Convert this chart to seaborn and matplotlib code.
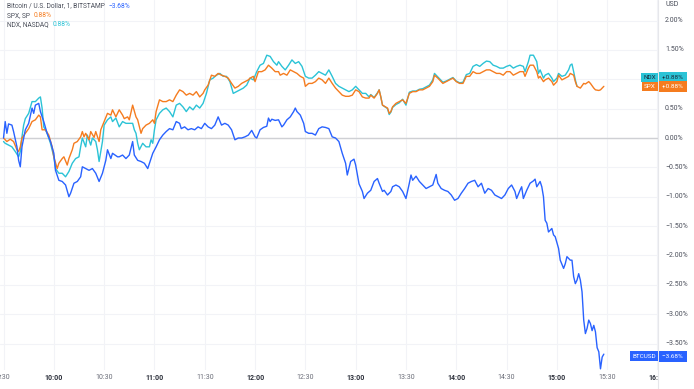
import numpy as np
import pandas as pd
import seaborn as sns
import matplotlib.pyplot as plt
from matplotlib.lines import Line2D
from matplotlib.transforms import blended_transform_factory, offset_copy

# minutes after 09:30 and % change from the open
btc_t = [0, 1, 2, 3, 5, 6, 8, 9, 10, 11, 13, 15, 17, 18, 19, 21, 22, 24, 26, 28,
         30, 31, 33, 35, 37, 39, 40, 42, 44, 46, 47, 49, 51, 53, 55, 57, 59, 61, 62, 64,
         65, 68, 69, 71, 73, 75, 77, 78, 80, 82, 84, 86, 88, 89, 91, 93, 95, 97, 99, 101,
         103, 105, 106, 108, 110, 112, 114, 116, 118, 120, 122, 124, 126, 128, 130, 132, 134, 136, 138, 140,
         142, 144, 146, 148, 150, 151, 153, 155, 157, 158, 159, 160, 162, 164, 166, 167, 169, 171, 173, 174,
         175, 177, 179, 180, 182, 184, 186, 188, 190, 192, 194, 196, 198, 200, 202, 204, 205, 207, 209, 210,
         212, 214, 215, 217, 219, 221, 223, 224, 226, 227, 229, 231, 232, 234, 236, 238, 240, 242, 243, 244,
         246, 248, 250, 252, 254, 256, 258, 259, 261, 263, 265, 267, 269, 271, 273, 275, 277, 279, 281, 283,
         285, 287, 289, 291, 293, 295, 297, 299, 301, 303, 305, 306, 308, 309, 310, 312, 314, 316, 317, 318,
         320, 321, 322, 323, 324, 325, 327, 328, 329, 331, 332, 334, 335, 336, 338, 339, 340, 341, 342, 343,
         344, 345, 346, 347, 348, 349, 350, 351, 352, 353, 354, 355, 356, 357, 358]
btc_pct = [0.00, 0.28, 0.08, 0.24, 0.22, 0.11, -0.15, -0.38, -0.49, -0.15, 0.14, 0.25, 0.51, 0.42, 0.56, 0.59, 0.45, 0.28, 0.08, -0.06,
           -0.26, -0.55, -0.72, -0.74, -0.80, -1.00, -0.94, -0.77, -0.74, -0.66, -0.49, -0.52, -0.55, -0.52, -0.60, -0.74, -0.60, -0.38, -0.20, -0.35,
           -0.26, -0.32, -0.32, -0.29, -0.35, -0.29, -0.06, -0.29, -0.38, -0.40, -0.43, -0.52, -0.35, -0.26, -0.15, -0.03, 0.05, 0.11, 0.16, 0.14,
           0.28, 0.25, 0.16, 0.19, 0.14, 0.16, 0.14, 0.19, 0.16, 0.25, 0.19, 0.16, 0.22, 0.36, 0.22, 0.25, 0.22, 0.14, -0.03, 0.00,
           0.00, 0.02, 0.05, 0.13, 0.02, 0.00, 0.14, 0.18, 0.20, 0.34, 0.28, 0.32, 0.30, 0.31, 0.19, 0.22, 0.31, 0.36, 0.45, 0.51,
           0.45, 0.39, 0.25, 0.11, 0.08, 0.08, 0.05, 0.16, 0.19, 0.18, 0.16, 0.02, 0.00, -0.06, -0.26, -0.43, -0.63, -0.40, -0.36, -0.46,
           -0.78, -0.91, -1.03, -0.94, -0.89, -0.74, -0.69, -0.77, -0.91, -0.89, -0.97, -0.91, -0.83, -0.80, -0.83, -0.91, -1.03, -0.77, -0.63, -0.72,
           -0.65, -0.74, -0.80, -0.86, -0.83, -0.80, -0.62, -0.77, -0.86, -0.89, -0.91, -0.97, -1.06, -1.03, -0.94, -0.86, -0.77, -0.74, -0.72, -0.83,
           -0.77, -0.94, -0.86, -0.89, -0.97, -1.00, -1.03, -0.97, -0.86, -0.80, -0.91, -1.03, -0.89, -0.83, -1.03, -0.89, -0.77, -0.73, -0.70, -0.83,
           -0.74, -0.83, -1.00, -1.40, -1.45, -1.60, -1.54, -1.65, -1.68, -1.88, -2.08, -2.22, -2.14, -2.02, -2.08, -2.08, -2.36, -2.48, -2.42, -2.31,
           -2.42, -2.62, -3.10, -3.33, -3.24, -3.10, -3.16, -3.28, -3.19, -3.30, -3.57, -3.64, -3.93, -3.73, -3.68]

spx_t = [0, 1, 2, 4, 6, 8, 9, 10, 11, 13, 15, 17, 19, 21, 22, 23, 25, 27, 29, 30,
         32, 33, 35, 36, 38, 39, 41, 42, 44, 46, 47, 48, 49, 51, 52, 54, 55, 57, 58, 60,
         62, 64, 65, 67, 69, 71, 72, 74, 75, 77, 79, 80, 82, 83, 85, 87, 89, 90, 91, 93,
         95, 97, 99, 101, 103, 105, 107, 109, 111, 113, 115, 117, 119, 120, 122, 124, 126, 128, 130, 132,
         134, 136, 138, 140, 142, 144, 146, 147, 149, 150, 152, 154, 156, 158, 160, 162, 164, 165, 167, 169,
         171, 173, 175, 177, 179, 180, 182, 184, 186, 188, 190, 192, 194, 196, 198, 200, 202, 204, 206, 208,
         210, 212, 214, 216, 218, 219, 221, 223, 224, 225, 226, 229, 230, 231, 232, 234, 236, 238, 240, 242,
         244, 246, 248, 250, 252, 254, 256, 257, 259, 260, 262, 264, 266, 268, 270, 272, 274, 276, 278, 280,
         282, 284, 286, 288, 290, 292, 294, 296, 298, 300, 302, 304, 306, 308, 310, 311, 313, 314, 316, 318,
         319, 320, 322, 323, 325, 327, 328, 330, 331, 333, 335, 337, 338, 340, 341, 342, 344, 346, 347, 349,
         350, 352, 353, 355, 356, 357, 358]
spx_pct = [0.00, -0.03, -0.06, -0.02, -0.06, -0.20, -0.23, -0.15, 0.00, 0.08, 0.16, 0.28, 0.31, 0.39, 0.36, 0.14, 0.14, 0.05, -0.15, -0.32,
           -0.52, -0.43, -0.35, -0.32, -0.46, -0.35, -0.20, -0.09, -0.06, 0.02, 0.11, 0.02, 0.08, -0.03, 0.11, 0.01, 0.11, -0.06, 0.14, 0.28,
           0.42, 0.39, 0.48, 0.36, 0.48, 0.39, 0.33, 0.36, 0.31, 0.56, 0.36, 0.31, 0.08, 0.16, 0.22, 0.25, 0.31, 0.25, 0.45, 0.65,
           0.62, 0.62, 0.65, 0.62, 0.73, 0.82, 0.79, 0.73, 0.76, 0.73, 0.79, 0.70, 0.76, 0.82, 0.90, 1.07, 1.05, 1.10, 1.07, 1.05,
           1.02, 0.93, 0.85, 0.88, 0.93, 0.96, 0.99, 1.02, 1.05, 0.96, 1.13, 1.13, 1.16, 1.24, 1.19, 1.13, 1.13, 1.07, 1.10, 1.07,
           1.16, 1.13, 1.10, 1.05, 1.02, 0.88, 0.93, 0.93, 0.96, 1.02, 0.99, 0.93, 1.02, 0.93, 0.85, 0.79, 0.73, 0.71, 0.71, 0.73,
           0.82, 0.79, 0.70, 0.68, 0.68, 0.73, 0.68, 0.76, 0.82, 0.70, 0.56, 0.51, 0.42, 0.45, 0.53, 0.59, 0.62, 0.65, 0.59, 0.76,
           0.79, 0.79, 0.82, 0.82, 0.85, 0.88, 0.96, 1.07, 1.02, 0.99, 0.93, 0.96, 0.99, 1.02, 0.96, 0.93, 0.93, 1.05, 1.05, 1.13,
           1.10, 1.10, 1.13, 1.16, 1.16, 1.13, 1.10, 1.10, 1.07, 1.13, 1.13, 1.07, 1.10, 1.13, 1.13, 1.05, 1.19, 1.24, 1.24, 1.13,
           1.02, 1.05, 0.96, 0.99, 1.02, 0.96, 0.90, 0.96, 1.07, 0.99, 1.02, 1.05, 1.10, 1.07, 0.96, 0.88, 0.85, 0.93, 0.92, 0.96,
           0.93, 0.85, 0.82, 0.81, 0.82, 0.85, 0.88]

ndx_t = [0, 1, 3, 5, 7, 9, 10, 11, 12, 13, 15, 17, 19, 20, 21, 22, 23, 24, 26, 28,
         30, 31, 33, 35, 37, 39, 41, 43, 45, 46, 47, 49, 50, 52, 53, 55, 56, 57, 59, 60,
         62, 64, 65, 67, 69, 71, 73, 75, 77, 78, 79, 80, 81, 83, 85, 87, 88, 89, 90, 91,
         93, 95, 97, 99, 101, 103, 105, 107, 109, 111, 113, 115, 117, 119, 121, 123, 125, 127, 129, 131,
         133, 135, 137, 139, 141, 143, 145, 147, 149, 151, 153, 155, 157, 159, 161, 163, 164, 166, 168, 170,
         172, 174, 176, 178, 180, 182, 184, 186, 188, 190, 192, 194, 196, 198, 200, 202, 204, 206, 208, 210,
         212, 214, 216, 218, 219, 221, 223, 224, 225, 226, 229, 230, 231, 232, 234, 236, 238, 240, 242, 244,
         246, 248, 250, 252, 254, 256, 257, 259, 260, 262, 264, 266, 268, 270, 272, 274, 276, 278, 280, 282,
         284, 286, 288, 290, 292, 294, 296, 298, 300, 302, 304, 306, 308, 310, 311, 313, 314, 316, 318, 319,
         320, 322, 323, 325, 327, 328, 330, 331, 333, 335, 337, 338, 339, 340, 341, 342]
ndx_pct = [-0.06, -0.09, -0.12, -0.15, -0.23, -0.32, -0.23, 0.02, 0.22, 0.33, 0.42, 0.62, 0.62, 0.65, 0.68, 0.70, 0.51, 0.19, 0.08, -0.09,
           -0.32, -0.52, -0.60, -0.60, -0.66, -0.57, -0.43, -0.35, -0.32, -0.15, 0.00, -0.15, 0.05, -0.12, 0.00, -0.06, -0.20, -0.40, -0.06, 0.22,
           0.31, 0.36, 0.28, 0.34, 0.19, 0.28, 0.25, 0.25, 0.25, 0.14, 0.08, -0.09, -0.20, -0.09, -0.15, -0.15, -0.03, -0.09, 0.14, 0.31,
           0.42, 0.48, 0.51, 0.45, 0.36, 0.56, 0.59, 0.53, 0.45, 0.53, 0.48, 0.56, 0.51, 0.59, 0.76, 0.99, 1.02, 1.07, 1.10, 1.05,
           1.05, 0.96, 0.76, 0.79, 0.82, 0.85, 0.90, 1.02, 0.99, 1.13, 1.24, 1.27, 1.41, 1.39, 1.30, 1.24, 1.30, 1.22, 1.16, 1.24,
           1.33, 1.27, 1.30, 1.22, 1.05, 1.02, 1.02, 1.07, 1.13, 1.10, 1.07, 1.16, 1.05, 0.93, 0.88, 0.85, 0.82, 0.79, 0.82, 0.88,
           0.82, 0.76, 0.76, 0.70, 0.74, 0.69, 0.77, 0.82, 0.70, 0.56, 0.50, 0.40, 0.44, 0.52, 0.57, 0.60, 0.66, 0.56, 0.78, 0.80,
           0.80, 0.83, 0.84, 0.87, 0.90, 0.99, 1.10, 1.04, 1.01, 0.95, 0.97, 1.00, 1.03, 0.97, 0.94, 0.95, 1.08, 1.10, 1.22, 1.25,
           1.22, 1.27, 1.31, 1.30, 1.24, 1.22, 1.19, 1.19, 1.22, 1.24, 1.19, 1.22, 1.24, 1.22, 1.13, 1.30, 1.41, 1.41, 1.30, 1.10,
           1.16, 1.02, 1.07, 1.10, 1.02, 0.96, 1.02, 1.10, 1.05, 1.07, 1.16, 1.24, 1.26, 1.13, 0.99, 0.88]

pct_ticks = [2.0, 1.5, 1.0, 0.5, 0.0, -0.5, -1.0, -1.5, -2.0, -2.5, -3.0, -3.5]
# 1.00% sits under the NDX / SPX badges, so its label is hidden
pct_labels = [2.0, 1.5, 0.5, 0.0, -0.5, -1.0, -1.5, -2.0, -2.5, -3.0, -3.5]
time_labels = ["9:30", "10:00", "10:30", "11:00", "11:30", "12:00", "12:30",
               "13:00", "13:30", "14:00", "14:30", "15:00", "15:30", "16:00"]

BLUE = "#2962ff"
ORANGE = "#f57c1f"
CYAN = "#2bc3d6"
TXT = "#4a4e5a"

sns.set_style("white")
plt.rcParams['font.family'] = ['Roboto', 'DejaVu Sans']

W, H = 694, 389
fig = plt.figure(figsize=(W / 100, H / 100), dpi=100)
ax = fig.add_axes([0, 19 / H, 658 / W, 370 / H])

df = pd.concat([
    pd.DataFrame({"t": ndx_t, "pct": ndx_pct, "sym": "NDX"}),
    pd.DataFrame({"t": spx_t, "pct": spx_pct, "sym": "SPX"}),
    pd.DataFrame({"t": btc_t, "pct": btc_pct, "sym": "BTCUSD"}),
])
sns.lineplot(data=df, x="t", y="pct", hue="sym", estimator=None, sort=False,
             palette={"NDX": CYAN, "SPX": ORANGE, "BTCUSD": BLUE},
             linewidth=1.0, legend=False, ax=ax)

ax.set_xlim(-2.1, 390.3)
ax.set_ylim(-3.95, 2.35)
ax.set_xticks(np.arange(0, 391, 30))
ax.set_yticks(pct_ticks)
ax.set_xticklabels([])
ax.set_yticklabels([])
ax.tick_params(length=0)
ax.set_xlabel("")
ax.set_ylabel("")
ax.grid(True, color="#f2f3f7", lw=0.8)
for s in ax.spines.values():
    s.set_visible(False)
ax.axhline(0, color="#cfd0d4", lw=1.0, zorder=1)

# price scale
fig.add_artist(Line2D([658 / W, 658 / W], [0, 1], transform=fig.transFigure, color="#e6e7eb", lw=0.8))
ptrans = blended_transform_factory(fig.transFigure, ax.transData)
for v in pct_labels:
    lbl = f"{v:.2f}%".replace("-", "\u2212")
    fig.text(665 / W, v, lbl, transform=ptrans, ha="left", va="center", fontsize=5, color=TXT, zorder=3)
fig.text(665 / W, 1 - 5 / H, "USD", ha="left", va="center", fontsize=5, color=TXT)

# time scale
ax_t = fig.add_axes([0, 0, 658 / W, 19 / H])
ax_t.set_xlim(ax.get_xlim())
ax_t.set_ylim(0, 1)
ax_t.axis("off")
for i, lbl in enumerate(time_labels):
    hour = lbl.endswith(":00")
    ax_t.text(i * 30, 0.58, lbl, ha="center", va="center", fontsize=5,
              fontweight="bold" if hour else "normal",
              color="#2a2e39" if hour else "#6a6d78", clip_on=True, clip_box=ax_t.bbox)

# legend at top left
renderer = fig.canvas.get_renderer()
legend_rows = [("Bitcoin / U.S. Dollar, 1, BITSTAMP", "\u22123.68%", BLUE),
               ("SPX, SP", "0.88%", ORANGE),
               ("NDX, NASDAQ", "0.88%", CYAN)]
for k, (name, val, col) in enumerate(legend_rows):
    y = 1 - (6 + 9.5 * k) / H
    t = fig.text(7 / W, y, name, ha="left", va="center", fontsize=4.8, color=TXT)
    bb = t.get_window_extent(renderer)
    fig.text((bb.x1 + 4) / W, y, val, ha="left", va="center", fontsize=4.8, color=col)


# last value badges on the price scale
def badge(name, val, y_val, col, txt_col, dy=0):
    tr = offset_copy(blended_transform_factory(fig.transFigure, ax.transData), fig=fig, x=0, y=dy, units="dots")
    fig.text(656 / W, y_val, name, transform=tr, ha="right", va="center", fontsize=4.6,
             color=txt_col, bbox=dict(boxstyle="square,pad=0.35", fc=col, ec="none"), zorder=6)
    fig.text(662 / W, y_val, val + " ", transform=tr, ha="left", va="center", fontsize=4.6,
             color=txt_col, bbox=dict(boxstyle="square,pad=0.45", fc=col, ec="none"), zorder=6)


badge("NDX", "+0.88%", ndx_pct[-1], CYAN, "#1b2a3a", dy=9)
badge("SPX", "+0.88%", spx_pct[-1], ORANGE, "white")
badge("BTCUSD", "\u22123.68%", btc_pct[-1], BLUE, "white", dy=-2)

fig.savefig("out.png", dpi=100)
